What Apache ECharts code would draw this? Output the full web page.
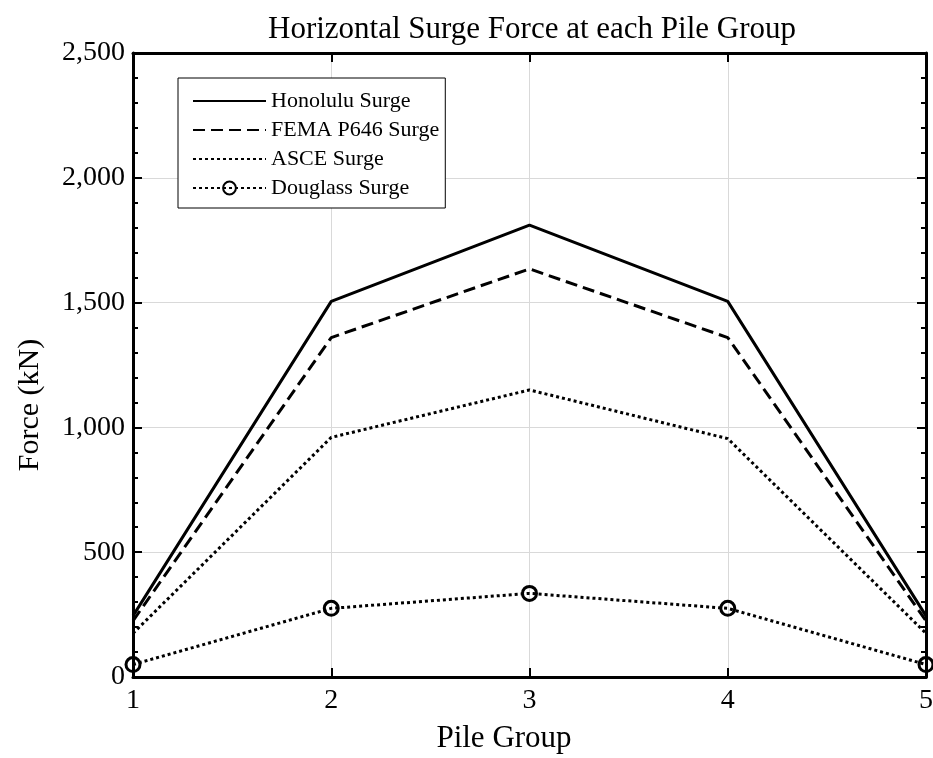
<!DOCTYPE html>
<html>
<head>
<meta charset="utf-8">
<script src="https://cdn.jsdelivr.net/npm/echarts@6/dist/echarts.min.js"></script>
<style>
  html, body { margin: 0; padding: 0; background: #fff; }
  #chart { width: 933px; height: 758px; }
</style>
</head>
<body>
<div id="chart"></div>
<script>
// Pile groups along the structure
const pileGroups = [1, 2, 3, 4, 5];

// Horizontal surge force per pile group (kN)
const honolulu = [245, 1505, 1810, 1505, 245];
const fema = [225, 1360, 1635, 1360, 225];
const asce = [175, 960, 1150, 955, 175];
const douglass = [50, 275, 335, 275, 50];

const seriesNames = ['Honolulu Surge', 'FEMA P646 Surge', 'ASCE Surge', 'Douglass Surge'];

const FONT = '"Liberation Serif", "Times New Roman", serif';

function pairs(values) {
  return pileGroups.map((g, i) => [g, values[i]]);
}

const chart = echarts.init(document.getElementById('chart'), null, { renderer: 'canvas' });

const frameAxis = {
  axisLine: { show: true, onZero: false, lineStyle: { color: '#000', width: 3 } },
  axisTick: { show: true, inside: true, length: 9, lineStyle: { color: '#000', width: 2 } },
};

// Legend entries: plain line samples, except Douglass which keeps its circle marker
const legendItems = seriesNames.map((name, i) =>
  i < 3 ? { name: name, itemStyle: { opacity: 0 } } : { name: name }
);

chart.setOption({
  animation: false,
  backgroundColor: '#fff',
  title: {
    text: 'Horizontal Surge Force at each Pile Group',
    left: 527, top: 9, textAlign: 'center',
    textStyle: { fontFamily: FONT, fontWeight: 'normal', fontSize: 31, color: '#000' }
  },
  grid: { left: 133, right: 7, top: 53, bottom: 81, containLabel: false, outerBoundsMode: 'none' },
  legend: {
    orient: 'vertical', left: 178, top: 78,
    padding: [12, 6, 9, 14],
    itemGap: 7, itemWidth: 73, itemHeight: 16,
    borderColor: '#000', borderWidth: 1, backgroundColor: '#fff',
    textStyle: { fontFamily: FONT, fontSize: 22, color: '#000', lineHeight: 22 },
    data: legendItems
  },
  xAxis: [
    Object.assign({
      type: 'value', min: 1, max: 5, interval: 1, position: 'bottom',
      axisLabel: { fontFamily: FONT, fontSize: 28, color: '#000', margin: 10 },
      splitLine: { show: true, lineStyle: { color: '#d9d9d9', width: 1 } }
    }, frameAxis),
    Object.assign({
      type: 'value', min: 1, max: 5, interval: 1, position: 'top',
      axisLabel: { show: false }, splitLine: { show: false }
    }, frameAxis)
  ],
  yAxis: [
    Object.assign({
      type: 'value', min: 0, max: 2500, interval: 500, position: 'left',
      axisLabel: {
        fontFamily: FONT, fontSize: 28, color: '#000', margin: 8,
        formatter: v => v.toLocaleString('en-US')
      },
      minorTick: { show: true, splitNumber: 5, length: 5, lineStyle: { color: '#000', width: 2 } },
      splitLine: { show: true, lineStyle: { color: '#d9d9d9', width: 1 } }
    }, frameAxis),
    Object.assign({
      type: 'value', min: 0, max: 2500, interval: 500, position: 'right',
      axisLabel: { show: false }, splitLine: { show: false },
      minorTick: { show: true, splitNumber: 5, length: 5, lineStyle: { color: '#000', width: 2 } }
    }, frameAxis)
  ],
  graphic: [
    {
      type: 'text',
      x: 30, y: 405, rotation: Math.PI / 2,
      style: {
        text: 'Force (kN)', fontFamily: FONT, fontSize: 30, fill: '#000',
        align: 'center', verticalAlign: 'middle'
      }
    },
    {
      type: 'text',
      x: 504, y: 739,
      style: {
        text: 'Pile Group', fontFamily: FONT, fontSize: 31, fill: '#000',
        align: 'center', verticalAlign: 'middle'
      }
    }
  ],
  series: [
    {
      name: seriesNames[0], type: 'line', data: pairs(honolulu),
      symbol: 'none', lineStyle: { color: '#000', width: 3, type: 'solid' },
      itemStyle: { color: '#000' }
    },
    {
      name: seriesNames[1], type: 'line', data: pairs(fema),
      symbol: 'none', lineStyle: { color: '#000', width: 3, type: [12, 6] },
      itemStyle: { color: '#000' }
    },
    {
      name: seriesNames[2], type: 'line', data: pairs(asce),
      symbol: 'none', lineStyle: { color: '#000', width: 3, type: [3, 3] },
      itemStyle: { color: '#000' }
    },
    {
      name: seriesNames[3], type: 'line', data: pairs(douglass),
      symbol: 'circle', symbolSize: 14, showAllSymbol: true,
      lineStyle: { color: '#000', width: 3, type: [3, 3] },
      itemStyle: { color: 'rgba(255,255,255,0)', borderColor: '#000', borderWidth: 3 }
    }
  ]
});
</script>
</body>
</html>
